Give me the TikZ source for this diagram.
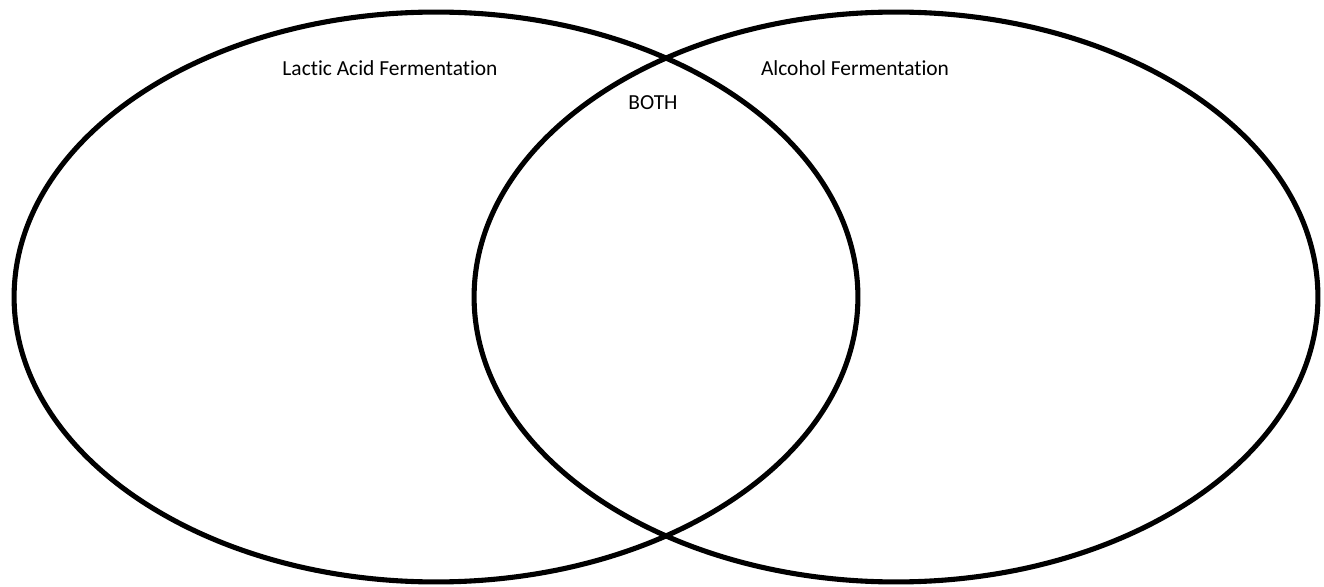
\documentclass[tikz,border=0pt]{standalone}
\usepackage{fontspec}
\setmainfont{Carlito}[Ligatures=NoCommon]
\tikzset{
  ring/.style={draw=black,line width=2.9pt},
  lbl/.style={font=\fontsize{12.2}{14}\selectfont,inner sep=0pt}
}
\begin{document}
\begin{tikzpicture}[x=0.02cm,y=-0.02cm]
\useasboundingbox (0,0) rectangle (1324,587);
\def\RX{8.44cm}\def\RY{5.7cm}
\coordinate (L) at (436,297); \coordinate (R) at (896,297);
\draw[ring] (L) ellipse [x radius=\RX, y radius=\RY];
\draw[ring] (R) ellipse [x radius=\RX, y radius=\RY];
\node[lbl] (lactic) at (390,68) {Lactic Acid Fermentation};
\node[lbl] (alcohol) at (855,68) {Alcohol Fermentation};
\node[lbl] (both) at (653,103) {BOTH};
\end{tikzpicture}
\end{document}
